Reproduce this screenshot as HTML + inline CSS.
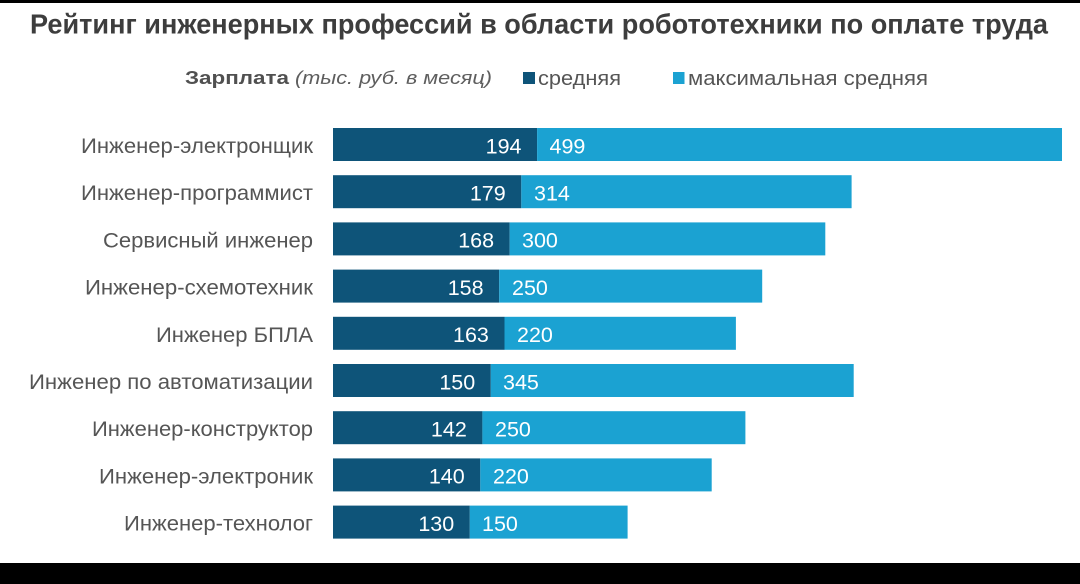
<!DOCTYPE html>
<html>
<head>
<meta charset="utf-8">
<style>
  html, body { margin:0; padding:0; background:#ffffff; }
  svg { display:block; }
  text { font-family: "Liberation Sans", "Noto Sans CJK SC", Arial, sans-serif; }
</style>
</head>
<body>
<svg width="1080" height="584" viewBox="0 0 1080 584" xmlns="http://www.w3.org/2000/svg">
  <rect x="0" y="0" width="1080" height="584" fill="#ffffff"/>
  <rect x="0" y="0" width="1080" height="3" fill="#000000"/>
  <rect x="0" y="563" width="1080" height="21" fill="#000000"/>

  <!-- Title -->
  <text x="30" y="33.5" font-size="27.5" font-weight="bold" fill="#3d3d3d" textLength="1018" lengthAdjust="spacingAndGlyphs">Рейтинг инженерных профессий в области робототехники по оплате труда</text>

  <!-- Legend -->
  <text x="185" y="84" font-size="18.5" font-weight="bold" fill="#505050" textLength="104" lengthAdjust="spacingAndGlyphs">Зарплата</text>
  <text x="295" y="84" font-size="18.5" font-style="italic" fill="#5e5e5e" textLength="197" lengthAdjust="spacingAndGlyphs">(тыс. руб. в месяц)</text>
  <rect x="523" y="72" width="12" height="12" fill="#0e5479"/>
  <text x="538" y="85" font-size="20" fill="#555555" textLength="83" lengthAdjust="spacingAndGlyphs">средняя</text>
  <rect x="673" y="72" width="11.5" height="12" fill="#1ba2d2"/>
  <text x="688" y="85" font-size="20" fill="#555555" textLength="240" lengthAdjust="spacingAndGlyphs">максимальная средняя</text>

  <!-- Bars -->
  <g>
    <!-- 1 -->
    <rect x="333" y="128" width="204.1" height="33" fill="#0e5479"/>
    <rect x="537.1" y="128" width="524.9" height="33" fill="#1ba2d2"/>
    <!-- 2 -->
    <rect x="333" y="175.2" width="188.3" height="33" fill="#0e5479"/>
    <rect x="521.3" y="175.2" width="330.3" height="33" fill="#1ba2d2"/>
    <!-- 3 -->
    <rect x="333" y="222.4" width="176.7" height="33" fill="#0e5479"/>
    <rect x="509.7" y="222.4" width="315.6" height="33" fill="#1ba2d2"/>
    <!-- 4 -->
    <rect x="333" y="269.6" width="166.2" height="33" fill="#0e5479"/>
    <rect x="499.2" y="269.6" width="263" height="33" fill="#1ba2d2"/>
    <!-- 5 -->
    <rect x="333" y="316.8" width="171.5" height="33" fill="#0e5479"/>
    <rect x="504.5" y="316.8" width="231.4" height="33" fill="#1ba2d2"/>
    <!-- 6 -->
    <rect x="333" y="364" width="157.8" height="33" fill="#0e5479"/>
    <rect x="490.8" y="364" width="362.9" height="33" fill="#1ba2d2"/>
    <!-- 7 -->
    <rect x="333" y="411.2" width="149.4" height="33" fill="#0e5479"/>
    <rect x="482.4" y="411.2" width="263" height="33" fill="#1ba2d2"/>
    <!-- 8 -->
    <rect x="333" y="458.4" width="147.3" height="33" fill="#0e5479"/>
    <rect x="480.3" y="458.4" width="231.4" height="33" fill="#1ba2d2"/>
    <!-- 9 -->
    <rect x="333" y="505.6" width="136.8" height="33" fill="#0e5479"/>
    <rect x="469.8" y="505.6" width="157.8" height="33" fill="#1ba2d2"/>
  </g>

  <!-- Category labels -->
  <g font-size="21" fill="#555555" text-anchor="end">
    <text x="313" y="153" textLength="232" lengthAdjust="spacingAndGlyphs">Инженер-электронщик</text>
    <text x="313" y="200.2" textLength="232" lengthAdjust="spacingAndGlyphs">Инженер-программист</text>
    <text x="313" y="247.4" textLength="210" lengthAdjust="spacingAndGlyphs">Сервисный инженер</text>
    <text x="313" y="294.6" textLength="228" lengthAdjust="spacingAndGlyphs">Инженер-схемотехник</text>
    <text x="313" y="341.8" textLength="157" lengthAdjust="spacingAndGlyphs">Инженер БПЛА</text>
    <text x="313" y="389" textLength="284" lengthAdjust="spacingAndGlyphs">Инженер по автоматизации</text>
    <text x="313" y="436.2" textLength="221" lengthAdjust="spacingAndGlyphs">Инженер-конструктор</text>
    <text x="313" y="483.4" textLength="214" lengthAdjust="spacingAndGlyphs">Инженер-электроник</text>
    <text x="313" y="530.6" textLength="189" lengthAdjust="spacingAndGlyphs">Инженер-технолог</text>
  </g>

  <!-- Values: dark -->
  <g font-size="21.5" fill="#ffffff" text-anchor="end">
    <text x="521.5" y="153.3">194</text>
    <text x="505.7" y="200.5">179</text>
    <text x="494.1" y="247.7">168</text>
    <text x="483.6" y="294.9">158</text>
    <text x="488.9" y="342.1">163</text>
    <text x="475.2" y="389.3">150</text>
    <text x="466.8" y="436.5">142</text>
    <text x="464.7" y="483.7">140</text>
    <text x="454.2" y="530.9">130</text>
  </g>

  <!-- Values: light -->
  <g font-size="21.5" fill="#ffffff" text-anchor="start">
    <text x="549.5" y="153.3">499</text>
    <text x="534" y="200.5">314</text>
    <text x="522" y="247.7">300</text>
    <text x="512" y="294.9">250</text>
    <text x="517" y="342.1">220</text>
    <text x="503" y="389.3">345</text>
    <text x="495" y="436.5">250</text>
    <text x="493" y="483.7">220</text>
    <text x="482" y="530.9">150</text>
  </g>
</svg>
</body>
</html>
